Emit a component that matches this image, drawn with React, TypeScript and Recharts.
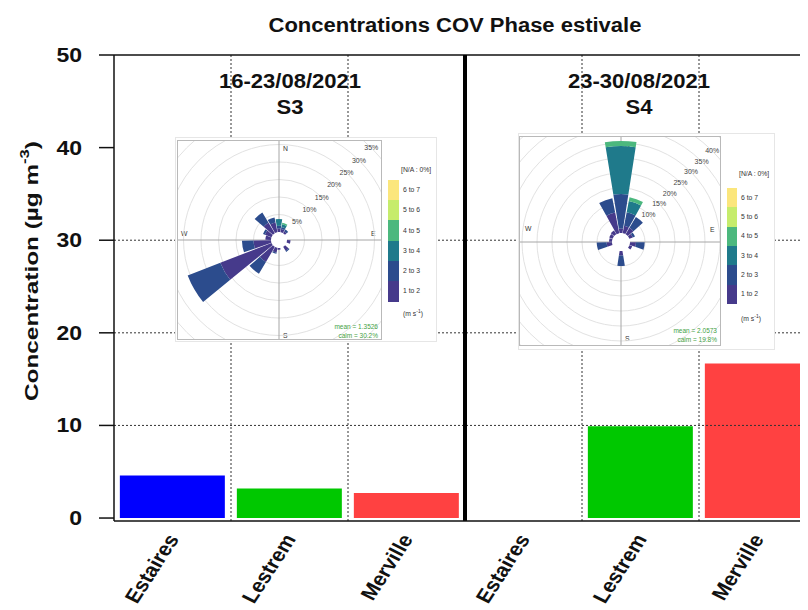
import React from 'react';
import {
  BarChart,
  Bar,
  XAxis,
  YAxis,
  Cell,
  ReferenceLine,
  RadialBarChart,
  RadialBar,
  PolarAngleAxis,
  PolarRadiusAxis,
  PolarGrid,
} from 'recharts';

// ---- Bar chart data ----
const sites = ['Estaires', 'Lestrem', 'Merville', 'Estaires', 'Lestrem', 'Merville'];
const concentrations: (number | null)[] = [4.6, 3.2, 2.7, null, 9.9, 16.7];
const siteColors = ['#0000ff', '#00c800', '#ff4141', '#0000ff', '#00c800', '#ff4141'];
const yTicks = [0, 10, 20, 30, 40, 50];
const gridValues = [10, 20, 30];
const boundaryTicks = [0, 1, 2, 3, 4, 5, 6];
const dottedBoundaries = [1, 2, 4, 5];
const periodBoundary = 3;
const periodDates = ['16-23/08/2021', '23-30/08/2021'];
const periodNames = ['S3', 'S4'];

// ---- Wind rose data (percent of time per 20° sector, by wind speed class) ----
const directions = [0, 20, 40, 60, 80, 100, 120, 140, 160, 180, 200, 220, 240, 260, 280, 300, 320, 340];
const s3Speed12 = [1.0, 0.9, 0.6, 0, 0, 1.0, 0, 1.3, 0, 0.5, 1.4, 5.0, 15.7, 5.0, 1.6, 2.0, 3.5, 2.8];
const s3Speed23 = [0.8, 0.6, 0.6, 0, 0, 0, 0, 0.4, 0, 0, 0.3, 3.9, 10.0, 3.3, 0, 0.6, 3.4, 1.5];
const s3Speed34 = [1.9, 0.8, 0, 0, 0, 0, 0, 0, 0, 0, 0, 0, 0, 0, 0, 0, 0, 0];
const s3Speed45 = [0, 0.4, 0, 0, 0, 0, 0, 0, 0, 0, 0, 0, 0, 0, 0, 0, 0, 0];

const s4Speed12 = [1.5, 2.5, 2.5, 1.2, 0, 2.0, 1.0, 0, 0, 1.5, 0, 0, 0, 1.8, 1.0, 1.2, 1.5, 7.0];
const s4Speed23 = [11.5, 4.6, 4.2, 0.8, 0, 2.9, 0, 0, 0, 3.5, 0, 0, 0, 3.3, 0, 0, 0, 4.9];
const s4Speed34 = [16.0, 3.8, 0, 0, 0, 0, 0, 0, 0, 0, 0, 0, 0, 0, 0, 0, 0, 0];
const s4Speed45 = [1.7, 1.3, 0, 0, 0, 0, 0, 0, 0, 0, 0, 0, 0, 0, 0, 0, 0, 0];

const speedKeys = ['s1', 's2', 's3', 's4'];
const speedBins = ['1 to 2', '2 to 3', '3 to 4', '4 to 5', '5 to 6', '6 to 7'];
const speedColors = ['#463a8b', '#2c4c8d', '#1f7a8b', '#4cb87e', '#c6ec6c', '#fbe67c'];
const compassAngles = [90, 0, -90, 180];
const s3Stats = ['mean = 1.3526', 'calm = 30.2%'];
const s4Stats = ['mean = 2.0573', 'calm = 19.8%'];

const FONT = '"Liberation Sans", Arial, Helvetica, sans-serif';

// slot: centre of each site's slot on the boundary axis (boundaries at 0..6)
const barData = sites.map((site, i) => ({ site, slot: i + 0.5, value: concentrations[i] }));

const roseS3 = directions.map((dir, i) => ({
  dir,
  s1: s3Speed12[i],
  s2: s3Speed23[i],
  s3: s3Speed34[i],
  s4: s3Speed45[i],
}));
const roseS4 = directions.map((dir, i) => ({
  dir,
  s1: s4Speed12[i],
  s2: s4Speed23[i],
  s3: s4Speed34[i],
  s4: s4Speed45[i],
}));

function SiteTick(props: any) {
  const { x, y, payload } = props;
  return (
    <g transform={`translate(${x + 7},${y + 17}) scale(1.12,1)`}>
      <text
        transform="rotate(-60)"
        textAnchor="end"
        fontSize={19.5}
        fontWeight="bold"
        fill="#111"
        fontFamily={FONT}
      >
        {payload.value}
      </text>
    </g>
  );
}

function ValueTick(props: any) {
  const { x, y, payload } = props;
  return (
    <g transform={`translate(${x},${y}) scale(1.15,1)`}>
      <text textAnchor="end" dy="0.35em" fontSize={20} fontWeight="bold" fill="#111" fontFamily={FONT}>
        {payload.value}
      </text>
    </g>
  );
}

function WindRose(props: any) {
  const { data, width, height, cx, cy, inner, pxPerPct, maxPct, gridTicks, firstLabel, lastLabel } = props;
  const outer = inner + pxPerPct * maxPct;
  const pctTick = (p: any) => {
    if (p.payload.value < firstLabel || p.payload.value > lastLabel) return <g />;
    return (
      <text
        x={p.x}
        y={p.y}
        textAnchor="middle"
        dominantBaseline="central"
        fontSize={7}
        fill="#444"
        fontFamily={FONT}
      >
        {p.payload.value}%
      </text>
    );
  };
  return (
    <RadialBarChart
      width={width}
      height={height}
      cx={cx}
      cy={cy}
      innerRadius={inner}
      outerRadius={outer}
      data={data}
      layout="centric"
      startAngle={80}
      endAngle={-280}
      barCategoryGap="6%"
      margin={{ top: 0, right: 0, bottom: 0, left: 0 }}
    >
      <PolarGrid gridType="circle" radialLines={false} stroke="#e2e2e2" />
      <PolarGrid gridType="circle" polarRadius={[]} polarAngles={compassAngles} stroke="#a6a6a6" />
      <PolarAngleAxis type="category" dataKey="dir" tick={false} axisLine={false} tickLine={false} />
      <PolarRadiusAxis
        type="number"
        domain={[0, maxPct]}
        ticks={gridTicks}
        angle={45}
        axisLine={false}
        tickLine={false}
        tick={pctTick}
      />
      {speedKeys.map((k, i) => (
        <RadialBar key={k} dataKey={k} stackId="speed" fill={speedColors[i]} stroke="none" isAnimationActive={false} />
      ))}
    </RadialBarChart>
  );
}

const smallText: React.CSSProperties = {
  position: 'absolute',
  fontSize: 6.8,
  color: '#333',
  fontFamily: FONT,
  whiteSpace: 'nowrap',
  lineHeight: '8px',
};

function RoseInset(props: any) {
  const { box, panel, rose, bar, stats, compass } = props;
  const labelsTop = [...speedBins].reverse();
  const colorsTop = [...speedColors].reverse();
  return (
    <div
      style={{
        position: 'absolute',
        left: box.left,
        top: box.top,
        width: box.width,
        height: box.height,
        background: '#fff',
        border: '1px solid #e6e6e6',
        boxSizing: 'border-box',
        overflow: 'hidden',
      }}
    >
      <div
        style={{
          position: 'absolute',
          left: panel.left,
          top: panel.top,
          width: panel.width,
          height: panel.height,
          outline: '1px solid #b9b9b9',
          overflow: 'hidden',
          background: '#fff',
        }}
      >
        <div style={{ ...smallText, left: compass.n[0] - 3, top: compass.n[1] - 4 }}>N</div>
        <div style={{ ...smallText, left: compass.s[0] - 3, top: compass.s[1] - 4 }}>S</div>
        <div style={{ ...smallText, left: compass.w[0] - 3, top: compass.w[1] - 4 }}>W</div>
        <div style={{ ...smallText, left: compass.e[0] - 3, top: compass.e[1] - 4 }}>E</div>
        <div style={{ position: 'absolute', left: 0, top: 0 }}>
          <WindRose {...rose} width={panel.width} height={panel.height} />
        </div>
        <div style={{ ...smallText, fontSize: 6.5, color: '#3f9f3f', right: 3, top: stats.top, textAlign: 'right' }}>
          {stats.lines[0]}
        </div>
        <div style={{ ...smallText, fontSize: 6.5, color: '#3f9f3f', right: 3, top: stats.top + 9, textAlign: 'right' }}>
          {stats.lines[1]}
        </div>
      </div>
      <div style={{ ...smallText, left: bar.labelX - 2, top: bar.naY - 4 }}>[N/A : 0%]</div>
      {colorsTop.map((c, i) => (
        <div
          key={c}
          style={{
            position: 'absolute',
            left: bar.x,
            top: bar.y + i * bar.h,
            width: bar.w,
            height: bar.h + 0.5,
            background: c,
          }}
        />
      ))}
      {labelsTop.map((t, i) => (
        <div key={t} style={{ ...smallText, left: bar.labelX, top: bar.y + i * bar.h + bar.h / 2 - 4 }}>
          {t}
        </div>
      ))}
      <div style={{ ...smallText, left: bar.labelX, top: bar.unitY - 4 }}>
        (m s<sup style={{ fontSize: 5 }}>-1</sup>)
      </div>
    </div>
  );
}

export default function App() {
  return (
    <div
      style={{
        position: 'relative',
        width: 800,
        height: 602,
        overflow: 'hidden',
        background: '#fff',
        fontFamily: FONT,
      }}
    >
      <div
        style={{
          position: 'absolute',
          left: 147,
          top: 5,
          width: 600,
          height: 24,
          lineHeight: '24px',
          textAlign: 'center',
          fontSize: 20,
          fontWeight: 'bold',
          color: '#111',
          transform: 'scaleX(1.1)',
        }}
      >
        Concentrations COV Phase estivale
      </div>

      <div style={{ position: 'absolute', left: 0, top: 0 }}>
        <BarChart
          width={820}
          height={600}
          data={barData}
          margin={{ top: 47, right: 12, bottom: 0, left: 0 }}
          barCategoryGap="5%"
        >
          <XAxis
            xAxisId={0}
            dataKey="slot"
            type="number"
            domain={[0, 6]}
            ticks={boundaryTicks}
            height={1}
            tick={false}
            tickSize={10}
            allowDataOverflow
            axisLine={{ stroke: '#111', strokeWidth: 1.5 }}
            tickLine={{ stroke: '#111', strokeWidth: 1.5 }}
          />
          <XAxis
            xAxisId={1}
            dataKey="site"
            type="category"
            height={86}
            interval={0}
            axisLine={false}
            tickLine={false}
            tickSize={0}
            tickMargin={0}
            tick={<SiteTick />}
          />
          <YAxis
            width={106}
            domain={[-0.32, 50]}
            ticks={yTicks}
            allowDataOverflow
            tickSize={15}
            tickMargin={17}
            axisLine={{ stroke: '#111', strokeWidth: 1.5 }}
            tickLine={{ stroke: '#111', strokeWidth: 1.5 }}
            tick={<ValueTick />}
          />
          {gridValues.map((v) => (
            <ReferenceLine key={`h${v}`} y={v} xAxisId={0} stroke="#333" strokeDasharray="2 2" />
          ))}
          {dottedBoundaries.map((v) => (
            <ReferenceLine key={`v${v}`} x={v} xAxisId={0} stroke="#333" strokeDasharray="2 2" />
          ))}
          <ReferenceLine y={50} xAxisId={0} stroke="#111" strokeWidth={1.5} />
          <Bar dataKey="value" xAxisId={1} isAnimationActive={false}>
            {barData.map((d, i) => (
              <Cell key={i} fill={siteColors[i]} />
            ))}
          </Bar>
          <ReferenceLine x={periodBoundary} xAxisId={0} stroke="#000" strokeWidth={4} />
        </BarChart>
      </div>

      <div
        style={{
          position: 'absolute',
          left: 24 - 160,
          top: 263 - 14,
          width: 320,
          height: 28,
          lineHeight: '28px',
          textAlign: 'center',
          fontSize: 19,
          fontWeight: 'bold',
          color: '#111',
          transform: 'rotate(-90deg) scaleX(1.28)',
          whiteSpace: 'nowrap',
        }}
      >
        Concentration (µg m<sup style={{ fontSize: 13, verticalAlign: 'top', lineHeight: '14px' }}>-3</sup>)
      </div>

      {periodDates.map((d, i) => (
        <div
          key={d}
          style={{
            position: 'absolute',
            left: (i === 0 ? 282 : 631) - 100,
            top: 60,
            width: 200,
            textAlign: 'center',
            fontSize: 21,
            fontWeight: 'bold',
            color: '#111',
            lineHeight: '26px',
            transform: 'scaleX(1.05)',
          }}
        >
          <div>{d}</div>
          <div>{periodNames[i]}</div>
        </div>
      ))}

      <RoseInset
        box={{ left: 167, top: 129, width: 262, height: 205 }}
        panel={{ left: 2, top: 3, width: 203, height: 198 }}
        rose={{ data: roseS3, cx: 101, cy: 99, inner: 8, pxPerPct: 3.5, maxPct: 35, gridTicks: [5, 10, 15, 20, 25, 30, 35], firstLabel: 5, lastLabel: 35 }}
        bar={{ x: 212, y: 42, w: 11, h: 20.2, labelX: 227, naY: 32, unitY: 173 }}
        stats={{ top: 182, lines: s3Stats }}
        compass={{ n: [108, 8], s: [108, 195], w: [6, 93], e: [196, 93] }}
      />
      <RoseInset
        box={{ left: 510, top: 125, width: 257, height: 217 }}
        panel={{ left: 1, top: 3, width: 200, height: 208 }}
        rose={{ data: roseS4, cx: 101, cy: 105, inner: 9, pxPerPct: 3.0, maxPct: 45, gridTicks: [5, 10, 15, 20, 25, 30, 35, 40, 45], firstLabel: 10, lastLabel: 40 }}
        bar={{ x: 208, y: 54, w: 10, h: 19.3, labelX: 222, naY: 40, unitY: 182 }}
        stats={{ top: 190, lines: s4Stats }}
        compass={{ n: [108, 8], s: [108, 202], w: [8, 92], e: [193, 93] }}
      />
    </div>
  );
}
